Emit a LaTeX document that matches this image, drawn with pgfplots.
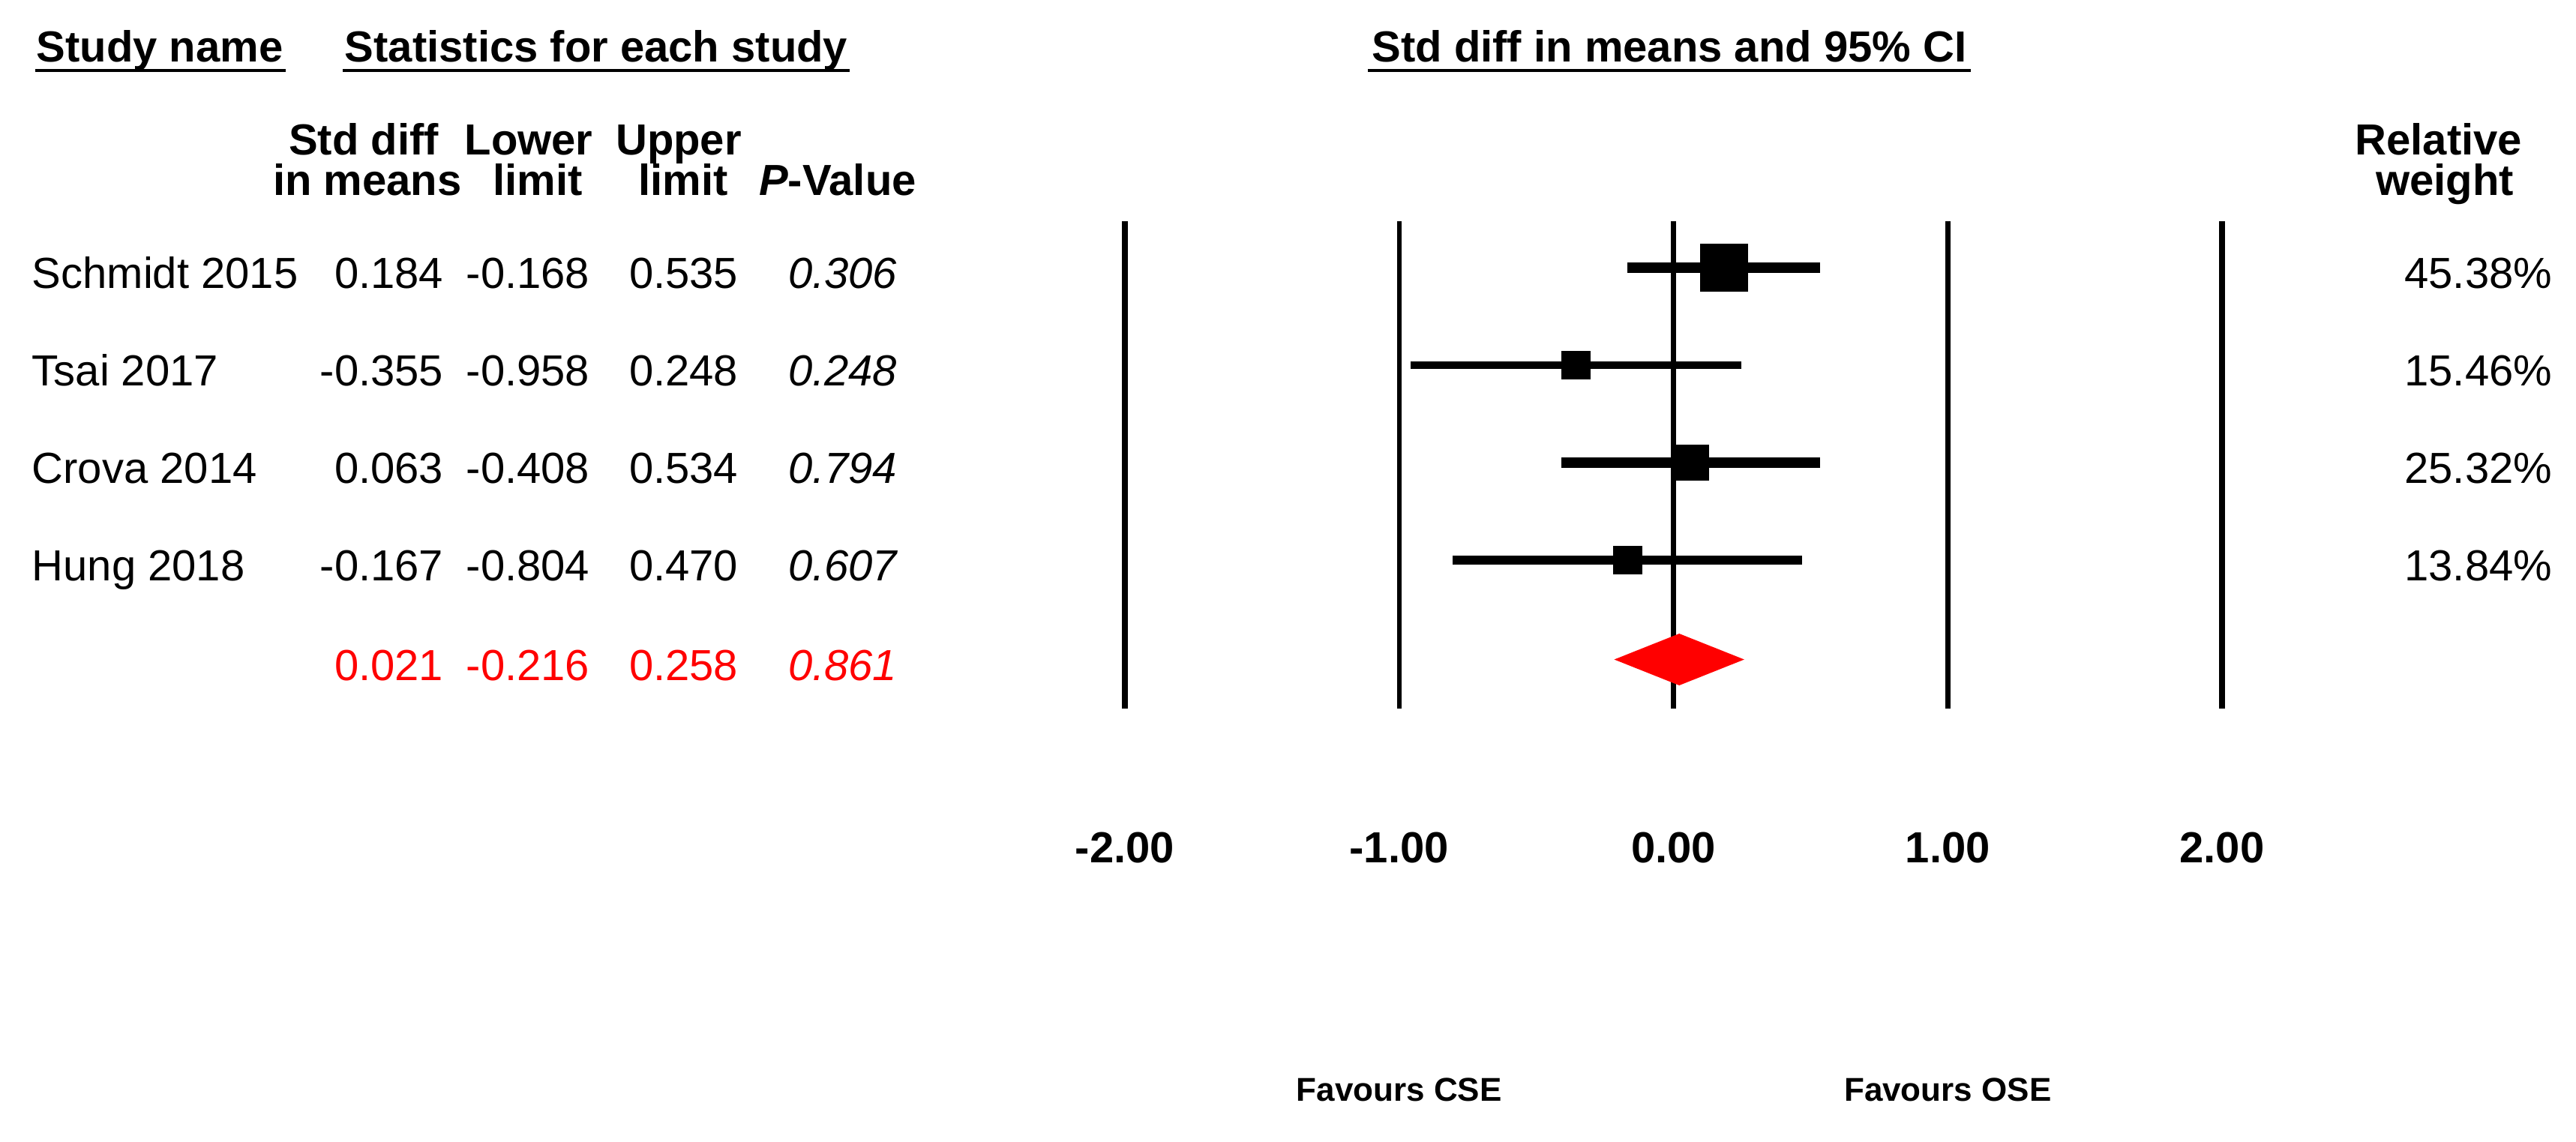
\documentclass[border=0pt]{standalone}
\usepackage{pgfplots}
\pgfplotsset{compat=1.18}
\usepackage{fontspec}
\setmainfont{Liberation Sans}
\begin{document}
\fontsize{14.5bp}{17bp}\selectfont
\begin{tikzpicture}
\path[use as bounding box] (0,0) rectangle (858.75bp,-380.75bp);
\begin{axis}[
  at={(0,0)}, anchor=north west,
  width=858.75bp, height=380.75bp, scale only axis,
  xmin=-6.10116, xmax=3.29050, ymin=0, ymax=1523, y dir=reverse,
  hide axis, clip=false,
]
% reference lines
\addplot[line width=2.2bp] coordinates {(-2,295) (-2,945)};
\addplot[line width=1.6bp] coordinates {(-1,295) (-1,945)};
\addplot[line width=1.6bp] coordinates {(0,295) (0,945)};
\addplot[line width=1.8bp] coordinates {(1,295) (1,945)};
\addplot[line width=2.2bp] coordinates {(2,295) (2,945)};
% confidence intervals
\addplot[line width=3.3bp] coordinates {(-0.168,357) (0.535,357)};
\addplot[line width=2.6bp] coordinates {(-0.958,487) (0.248,487)};
\addplot[line width=3.3bp] coordinates {(-0.408,617) (0.534,617)};
\addplot[line width=2.8bp] coordinates {(-0.804,747) (0.470,747)};
% point estimates
\addplot[only marks, mark=square*, mark size=7.75bp, mark options={draw=none, fill=black}] coordinates {(0.184,357)};
\addplot[only marks, mark=square*, mark size=4.6bp, mark options={draw=none, fill=black}] coordinates {(-0.355,487)};
\addplot[only marks, mark=square*, mark size=5.9bp, mark options={draw=none, fill=black}] coordinates {(0.063,617)};
\addplot[only marks, mark=square*, mark size=4.6bp, mark options={draw=none, fill=black}] coordinates {(-0.167,747)};
% summary diamond
\addplot[fill=red, draw=none] coordinates {(-0.216,879.5) (0.021,845) (0.258,879.5) (0.021,914)} -- cycle;
% tick labels
\node[anchor=base, inner sep=0, font=\bfseries] at (axis cs:-2,1150) {-2.00};
\node[anchor=base, inner sep=0, font=\bfseries] at (axis cs:-1,1150) {-1.00};
\node[anchor=base, inner sep=0, font=\bfseries] at (axis cs:0,1150) {0.00};
\node[anchor=base, inner sep=0, font=\bfseries] at (axis cs:1,1150) {1.00};
\node[anchor=base, inner sep=0, font=\bfseries] at (axis cs:2,1150) {2.00};
\node[anchor=base, inner sep=0, font=\bfseries\fontsize{11bp}{13bp}\selectfont] at (axis cs:-1,1468) {Favours CSE};
\node[anchor=base, inner sep=0, font=\bfseries\fontsize{11bp}{13bp}\selectfont] at (axis cs:1,1468) {Favours OSE};
\end{axis}
\begin{scope}[x=0.25bp, y=-0.25bp, every node/.style={inner sep=0}]
% headers
\node[anchor=base west, font=\bfseries] at (48,82) {Study name};
\draw[line width=1bp] (47.5,94) -- (381,94);
\node[anchor=base west, font=\bfseries] at (459,82) {Statistics for each study};
\draw[line width=1bp] (457,94) -- (1133,94);
\node[anchor=base, font=\bfseries] at (2226,82) {Std diff in means and 95\% CI};
\draw[line width=1bp] (1824,94) -- (2628,94);
\node[anchor=base, font=\bfseries] at (485,207) {Std diff};
\node[anchor=base, font=\bfseries] at (490,261) {in means};
\node[anchor=base, font=\bfseries] at (705,207) {Lower};
\node[anchor=base, font=\bfseries] at (717,261) {limit};
\node[anchor=base, font=\bfseries] at (905,207) {Upper};
\node[anchor=base, font=\bfseries] at (911,261) {limit};
\node[anchor=base, font=\bfseries] at (1117,261) {\textit{P}-Value};
\node[anchor=base, font=\bfseries] at (3252,207) {Relative};
\node[anchor=base, font=\bfseries] at (3260,261) {weight};
% rows
\node[anchor=base west] at (42,385) {Schmidt 2015};
\node[anchor=base east] at (592,385) {0.184};
\node[anchor=base east] at (787,385) {-0.168};
\node[anchor=base east] at (985,385) {0.535};
\node[anchor=base east] at (1197,385) {\itshape 0.306};
\node[anchor=base east] at (3404,385) {45.38\%};
\node[anchor=base west] at (42,515) {Tsai 2017};
\node[anchor=base east] at (592,515) {-0.355};
\node[anchor=base east] at (787,515) {-0.958};
\node[anchor=base east] at (985,515) {0.248};
\node[anchor=base east] at (1197,515) {\itshape 0.248};
\node[anchor=base east] at (3404,515) {15.46\%};
\node[anchor=base west] at (42,645) {Crova 2014};
\node[anchor=base east] at (592,645) {0.063};
\node[anchor=base east] at (787,645) {-0.408};
\node[anchor=base east] at (985,645) {0.534};
\node[anchor=base east] at (1197,645) {\itshape 0.794};
\node[anchor=base east] at (3404,645) {25.32\%};
\node[anchor=base west] at (42,775) {Hung 2018};
\node[anchor=base east] at (592,775) {-0.167};
\node[anchor=base east] at (787,775) {-0.804};
\node[anchor=base east] at (985,775) {0.470};
\node[anchor=base east] at (1197,775) {\itshape 0.607};
\node[anchor=base east] at (3404,775) {13.84\%};
\node[anchor=base east, text=red] at (592,908) {0.021};
\node[anchor=base east, text=red] at (787,908) {-0.216};
\node[anchor=base east, text=red] at (985,908) {0.258};
\node[anchor=base east, text=red] at (1197,908) {\itshape 0.861};
\end{scope}
\end{tikzpicture}
\end{document}
